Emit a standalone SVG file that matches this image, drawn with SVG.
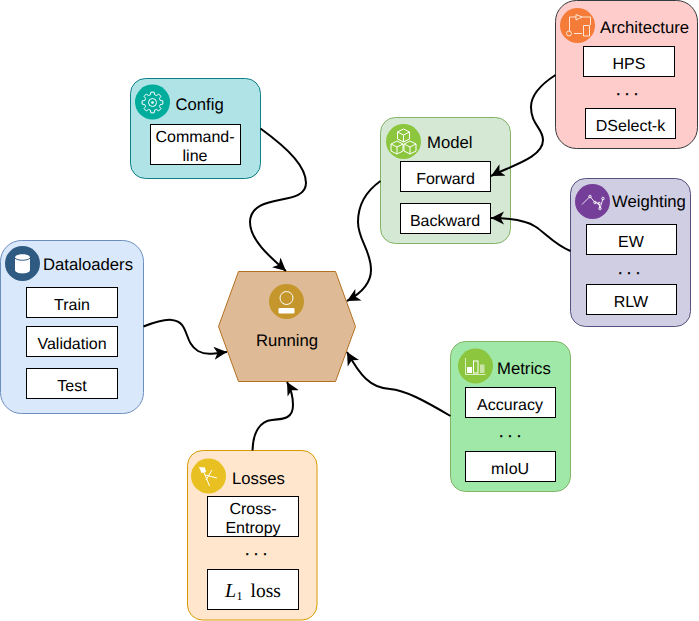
<svg xmlns="http://www.w3.org/2000/svg" width="699" height="621" viewBox="0 0 699 621">
<style>
text{font-family:"Liberation Sans",Arial,sans-serif;font-size:16px;fill:#000;text-rendering:geometricPrecision}
.t{font-size:16.7px}
.d{stroke:#000;stroke-width:.35}
.c{text-anchor:middle}
.b{fill:#fff;stroke:#000;stroke-width:1}
.i{fill:none;stroke:#fff;stroke-width:1}
.w{fill:#fff;stroke:none}
.e{fill:none;stroke:#000;stroke-width:2}
</style>
<defs><marker id="a" markerUnits="userSpaceOnUse" viewBox="0 0 14 14" markerWidth="14" markerHeight="14" refX="13" refY="7" orient="auto"><path d="M0 0.500L13 7L0 13.500L3.500 7Z" fill="#000"/></marker></defs>
<g id="running"><path d="M238.500 271.500H335.500L355.500 326.500L335.500 381.500H238.500L218.500 326.500Z" fill="#deba96" stroke="#b5701f"/>
<circle cx="286.500" cy="301.500" r="17.500" fill="#c4962c"/><circle class="i" cx="286.500" cy="298" r="6.500"/><rect class="w" x="278.500" y="308" width="16" height="5.500" rx="1"/>
<text class="c t" x="287" y="346">Running</text></g>
<g id="config"><rect x="130.500" y="78.500" width="130" height="100" rx="15" fill="#b0e3e6" stroke="#0e8088"/>
<circle cx="152.500" cy="102" r="17.500" fill="#00ac9c"/>
<g transform="translate(152.500 102.500)"><path class="i" stroke-width="1.400" d="M7.730-2.070L10.370-1.640V1.640L7.730 2.070L6.930 4L8.490 6.170L6.170 8.490L4 6.930L2.070 7.730L1.640 10.370H-1.640L-2.070 7.730L-4 6.930L-6.170 8.490L-8.490 6.170L-6.930 4L-7.730 2.070L-10.370 1.640V-1.640L-7.730-2.070L-6.930-4L-8.490-6.170L-6.170-8.490L-4-6.930L-2.070-7.730L-1.640-10.370H1.640L2.070-7.730L4-6.930L6.170-8.490L8.490-6.170L6.930-4Z"/><circle class="i" r="4" stroke-width="1.400"/><circle class="w" r="1.300"/></g>
<text class="t" x="175.500" y="110">Config</text>
<rect class="b" x="150.500" y="124.500" width="90" height="40"/>
<text class="c" x="195" y="142">Command-</text><text class="c" x="195" y="161">line</text></g>
<g id="dataloaders"><rect x="0.500" y="240.500" width="143" height="173" rx="21" fill="#dae8fc" stroke="#6c8ebf"/>
<circle cx="22.500" cy="263.500" r="17.500" fill="#2f5b82"/>
<path class="w" d="M15 257.500C15 253 30 253 30 257.500V270C30 274.500 15 274.500 15 270Z"/><path d="M15 258C17 261 28 261 30 258" fill="none" stroke="#2f5b82"/>
<text class="t" x="43" y="270">Dataloaders</text>
<rect class="b" x="26.500" y="287.500" width="91" height="30"/><text class="c" x="72" y="310">Train</text>
<rect class="b" x="26.500" y="326.500" width="91" height="30"/><text class="c" x="72" y="349">Validation</text>
<rect class="b" x="26.500" y="368.500" width="91" height="30"/><text class="c" x="72" y="391">Test</text></g>
<g id="model"><rect x="380.500" y="117.500" width="130" height="126" rx="15" fill="#d5e8d4" stroke="#82b366"/>
<circle cx="403.500" cy="141.500" r="17.500" fill="#8cc63f"/>
<path class="i" stroke-width="1.400" d="M403.500 129l6 3v7l-6 3-6-3v-7zM397.500 132l6 3 6-3M403.500 135v7M397 141l6 3v7l-6 3-6-3v-7zM391 144l6 3 6-3M397 147v7M410 141l6 3v7l-6 3-6-3v-7zM404 144l6 3 6-3M410 147v7"/>
<text class="t" x="427" y="148">Model</text>
<rect class="b" x="400.500" y="161.500" width="90" height="30"/><text class="c" x="445.500" y="184">Forward</text>
<rect class="b" x="400.500" y="203.500" width="90" height="30"/><text class="c" x="445" y="226">Backward</text></g>
<g id="architecture"><rect x="555.500" y="0.500" width="142" height="148" rx="21" fill="#ffcccc" stroke="#36393d"/>
<circle cx="577.500" cy="25.500" r="17.500" fill="#f57c38"/>
<path class="i" opacity=".8" d="M576 17H569.500V31M582 17H590.500V25M574 33.500H582"/><path class="i" opacity=".8" d="M576 14.500L582 17L576 20ZM583.500 25.500H589.500V36H583.500Z"/><circle class="i" opacity=".8" cx="569" cy="33.500" r="2.500"/>
<text class="t" x="600" y="33">Architecture</text>
<rect class="b" x="583.500" y="46.500" width="91" height="30"/><text class="c" x="629" y="69">HPS</text>
<text class="c d" x="627" y="95">. . .</text>
<rect class="b" x="585.500" y="108.500" width="90" height="30"/><text class="c" x="630.500" y="131">DSelect-k</text></g>
<g id="weighting"><rect x="570.500" y="178.500" width="120" height="148" rx="15" fill="#d0cee2" stroke="#56517e"/>
<circle cx="592.500" cy="201.500" r="17.500" fill="#753f99"/>
<path class="i" opacity=".85" d="M582 204.500L590 196.500L595 202.500L599 203.500L600 208.500L603 198.500"/><g fill="none" stroke="#fff" stroke-width=".8"><circle cx="590" cy="196.500" r="1.300"/><circle cx="595" cy="202.500" r="1.300"/><circle cx="599" cy="203.500" r="1.300"/><circle cx="600" cy="208.500" r="1.300"/><circle cx="603" cy="198.500" r="1.300"/></g>
<text class="t" x="612" y="207">Weighting</text>
<rect class="b" x="586.500" y="224.500" width="90" height="30"/><text class="c" x="631" y="247">EW</text>
<text class="c d" x="629" y="274">. . .</text>
<rect class="b" x="586.500" y="284.500" width="90" height="30"/><text class="c" x="631" y="307">RLW</text></g>
<g id="metrics"><rect x="450.500" y="341.500" width="120" height="150" rx="15" fill="#a0e8a8" stroke="#82b366"/>
<circle cx="475.500" cy="366" r="17.500" fill="#8cc63f"/>
<path fill="none" stroke="#fff" opacity=".7" d="M465.500 358V374.500H485.500"/><rect class="w" x="467" y="367" width="5" height="6"/><rect class="i" x="473.500" y="361" width="4.500" height="12"/><rect x="480" y="364.500" width="4.500" height="8.500" fill="#fff" opacity=".55"/>
<text class="t" x="497" y="374">Metrics</text>
<rect class="b" x="465.500" y="387.500" width="90" height="30"/><text class="c" x="510" y="410">Accuracy</text>
<text class="c d" x="510" y="437">. . .</text>
<rect class="b" x="465.500" y="451.500" width="90" height="30"/><text class="c" x="510" y="474">mIoU</text></g>
<g id="losses"><rect x="187.500" y="450.500" width="129.500" height="169.500" rx="15" fill="#ffe6cc" stroke="#d79b00"/>
<circle cx="208.500" cy="476" r="17.500" fill="#e9c021"/>
<path class="i" d="M203 470L209.500 486M212 470L206 480M205 475L217 478"/><path class="w" d="M199 467L205 467.500L206 472L201.500 473Z"/>
<text class="t" x="232" y="484">Losses</text>
<rect class="b" x="207.500" y="496.500" width="91" height="40"/><text class="c" x="253" y="514">Cross-</text><text class="c" x="253" y="533">Entropy</text>
<text class="c d" x="256" y="555">. . .</text>
<rect class="b" x="207.500" y="569.500" width="91" height="40"/>
<text x="225" y="596.500" style="font-family:'Liberation Serif',serif;font-size:20px;font-style:italic">L</text><text x="236.500" y="600" style="font-family:'Liberation Serif',serif;font-size:12px">1</text><text x="250.500" y="596.500" style="font-family:'Liberation Serif',serif;font-size:19.500px">loss</text></g>
<g id="connectors">
<path class="e" marker-end="url(#a)" d="M260.500 128.500C290 150 306 167 306 183C306 208 251 191 250 222C250 240 270 257 286 271"/>
<path class="e" marker-end="url(#a)" d="M555.500 75C540 85 531 95 531 107C531 125 543 128 543 140C543 158 510 166 491 176"/>
<path class="e" marker-end="url(#a)" d="M380.500 181C365 192 358 205 358 222C358 240 371 250 371 270C371 285 358 295 347 301"/>
<path class="e" marker-end="url(#a)" d="M570.500 251C550 243 540 225 525 222C512 218 502 218 491 218"/>
<path class="e" marker-end="url(#a)" d="M143.500 326.500C155 322 165 319 172 320C190 322 183 342 198 351C207 356 217 353 227 352"/>
<path class="e" marker-end="url(#a)" d="M450.500 416C425 401 405 390 390 389C370 388 360 375 347 352"/>
<path class="e" marker-end="url(#a)" d="M252.500 450.500C253 432 260 421 272 420C285 419 293 418 293 405C293 398 292 391 287 382"/>
</g>
</svg>
